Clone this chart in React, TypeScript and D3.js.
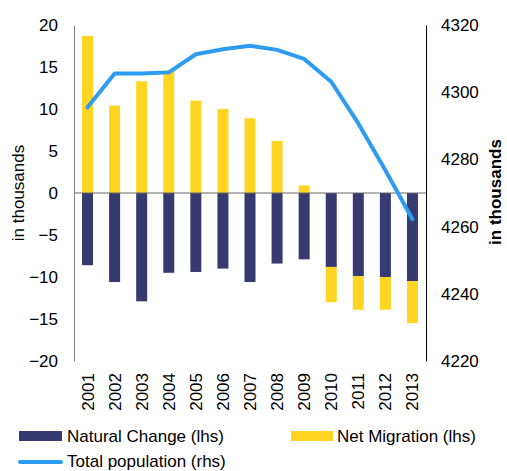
import * as d3 from 'd3';
import { useEffect, useRef } from 'react';

const years = ['2001', '2002', '2003', '2004', '2005', '2006', '2007', '2008', '2009', '2010', '2011', '2012', '2013'];
const naturalChange = [-8.6, -10.6, -12.9, -9.5, -9.4, -9.0, -10.6, -8.4, -7.9, -8.8, -9.9, -10.0, -10.5];
const netMigration = [18.7, 10.4, 13.3, 14.6, 11.0, 10.0, 8.9, 6.2, 0.9, -4.2, -4.0, -3.9, -5.0];
const totalPopulation = [4295.5, 4305.6, 4305.6, 4305.9, 4311.3, 4312.8, 4313.8, 4312.6, 4309.9, 4303.1, 4290.7, 4276.8, 4262.2];
const leftTicks = [20, 15, 10, 5, 0, -5, -10, -15, -20];
const rightTicks = [4320, 4300, 4280, 4260, 4240, 4220];

const NAVY = '#353a70';
const YELLOW = '#ffd522';
const BLUE = '#2e9bf2';
const FONT = 'Arial, "Liberation Sans", sans-serif';

export default function App() {
  const svgRef = useRef<SVGSVGElement>(null);

  useEffect(() => {
    if (!svgRef.current) return;
    const svg = d3.select(svgRef.current);
    svg.selectAll('*').remove();

    const left = 74;
    const right = 426;
    const top = 25;
    const bottom = 361;

    const x = d3.scaleBand().domain(years).range([left, right]).padding(0);
    const barW = 11;
    const yL = d3.scaleLinear().domain([-20, 20]).range([bottom, top]);
    const yR = d3.scaleLinear().domain([4220, 4320]).range([bottom, top]);

    const rows = years.map((yr, i) => ({ year: yr, nat: naturalChange[i], mig: netMigration[i] }));
    const stack = d3
      .stack<{ year: string; nat: number; mig: number }>()
      .keys(['nat', 'mig'])
      .offset(d3.stackOffsetDiverging);
    const series = stack(rows);
    const colors = [NAVY, YELLOW];

    series.forEach((s, k) => {
      svg
        .append('g')
        .selectAll('rect')
        .data(s)
        .join('rect')
        .attr('x', (d) => (x(d.data.year) ?? 0) + x.bandwidth() / 2 - barW / 2)
        .attr('width', barW)
        .attr('y', (d) => yL(Math.max(d[0], d[1])))
        .attr('height', (d) => Math.abs(yL(d[0]) - yL(d[1])))
        .attr('fill', colors[k]);
    });

    // zero line
    svg
      .append('line')
      .attr('x1', left)
      .attr('x2', right)
      .attr('y1', yL(0))
      .attr('y2', yL(0))
      .attr('stroke', '#666')
      .attr('stroke-width', 1);

    // left axis
    const gl = svg
      .append('g')
      .attr('transform', `translate(${left},0)`)
      .call(d3.axisLeft(yL).tickValues(leftTicks).tickSize(0).tickPadding(16));
    gl.select('.domain').attr('stroke', '#808080');
    gl.selectAll('.tick text').style('font-size', '17px').style('font-family', FONT).attr('fill', '#000');

    // right axis
    const gr = svg
      .append('g')
      .attr('transform', `translate(${right},0)`)
      .call(d3.axisRight(yR).tickValues(rightTicks).tickFormat(d3.format('d')).tickSize(0).tickPadding(15));
    gr.select('.domain').attr('stroke', '#000');
    gr.selectAll('.tick text').style('font-size', '17px').style('font-family', FONT).attr('fill', '#000');

    // x labels
    svg
      .append('g')
      .selectAll('text')
      .data(years)
      .join('text')
      .attr('transform', (d) => `translate(${(x(d) ?? 0) + x.bandwidth() / 2 + 6},373) rotate(-90)`)
      .attr('text-anchor', 'end')
      .style('font-size', '17px')
      .style('font-family', FONT)
      .text((d) => d);

    // population line
    const line = d3
      .line<number>()
      .x((_, i) => (x(years[i]) ?? 0) + x.bandwidth() / 2)
      .y((d) => yR(d));
    svg
      .append('path')
      .datum(totalPopulation)
      .attr('d', line)
      .attr('fill', 'none')
      .attr('stroke', BLUE)
      .attr('stroke-width', 4)
      .attr('stroke-linecap', 'round')
      .attr('stroke-linejoin', 'round');

    // axis titles
    svg
      .append('text')
      .attr('transform', `translate(24,193) rotate(-90)`)
      .attr('text-anchor', 'middle')
      .style('font-size', '17px')
      .style('font-family', FONT)
      .text('in thousands');
    svg
      .append('text')
      .attr('transform', `translate(501,192) rotate(-90)`)
      .attr('text-anchor', 'middle')
      .style('font-size', '17px')
      .style('font-weight', 'bold')
      .style('font-family', FONT)
      .text('in thousands');

    // legend
    const legend = svg.append('g').style('font-family', FONT).style('font-size', '17px');
    legend.append('rect').attr('x', 19).attr('y', 431).attr('width', 43).attr('height', 10).attr('fill', NAVY);
    legend.append('text').attr('x', 67).attr('y', 442).text('Natural Change (lhs)');
    legend.append('rect').attr('x', 291).attr('y', 431).attr('width', 42).attr('height', 10).attr('fill', YELLOW);
    legend.append('text').attr('x', 337).attr('y', 442).text('Net Migration (lhs)');
    legend
      .append('line')
      .attr('x1', 20)
      .attr('x2', 61)
      .attr('y1', 462)
      .attr('y2', 462)
      .attr('stroke', BLUE)
      .attr('stroke-width', 4)
      .attr('stroke-linecap', 'round');
    legend.append('text').attr('x', 67).attr('y', 467).text('Total population (rhs)');
  }, []);

  return (
    <svg
      ref={svgRef}
      width={507}
      height={471}
      style={{ position: 'absolute', left: 0, top: 0, background: '#fff' }}
    />
  );
}
